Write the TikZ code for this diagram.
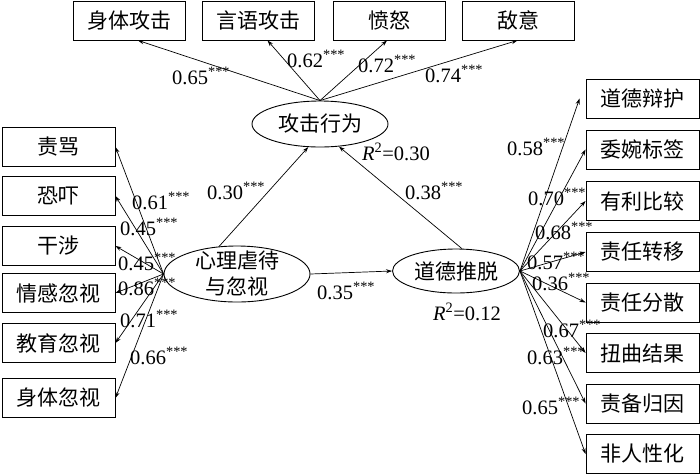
\documentclass[tikz,border=0pt]{standalone}
\usepackage{fontspec}
\setmainfont{Liberation Serif}
\newfontfamily\cjk{Noto Sans CJK SC}
\usetikzlibrary{shapes.geometric,arrows.meta}
\begin{document}
\begin{tikzpicture}[x=1pt,y=-1pt,
  ind/.style={draw, line width=0.9pt, minimum width=112pt, minimum height=39pt, inner sep=0pt, font=\cjk\fontsize{21}{24}\selectfont},
  lat/.style={draw, ellipse, line width=0.9pt, inner sep=0pt, font=\cjk\fontsize{21}{26}\selectfont, align=center},
  arr/.style={-{Stealth[length=6pt,width=4pt]}, line width=0.7pt},
  coef/.style={anchor=base west, inner sep=0pt, font=\fontsize{20.5}{24}\selectfont}
]
\useasboundingbox (0,0) rectangle (700,475);
% top indicators
\node[ind] (t1) at (129,20.5) {身体攻击};
\node[ind] (t2) at (258.5,20.5) {言语攻击};
\node[ind] (t3) at (389,20.5) {愤怒};
\node[ind] (t4) at (518.5,20.5) {敌意};
% left indicators
\node[ind, minimum width=113pt] (l1) at (58.5,147) {责骂};
\node[ind, minimum width=113pt] (l2) at (58.5,196) {恐吓};
\node[ind, minimum width=113pt] (l3) at (58.5,246) {干涉};
\node[ind, minimum width=113pt] (l4) at (58.5,293) {情感忽视};
\node[ind, minimum width=113pt] (l5) at (58.5,343) {教育忽视};
\node[ind, minimum width=113pt] (l6) at (58.5,398) {身体忽视};
% right indicators
\node[ind, minimum width=113pt] (r1) at (642.5,98.5) {道德辩护};
\node[ind, minimum width=113pt] (r2) at (642.5,149.5) {委婉标签};
\node[ind, minimum width=113pt] (r3) at (642.5,201) {有利比较};
\node[ind, minimum width=113pt] (r4) at (642.5,252) {责任转移};
\node[ind, minimum width=113pt] (r5) at (642.5,302.5) {责任分散};
\node[ind, minimum width=113pt] (r6) at (642.5,353) {扭曲结果};
\node[ind, minimum width=113pt] (r7) at (642.5,403.5) {责备归因};
\node[ind, minimum width=113pt] (r8) at (642.5,454) {非人性化};
% latent variables
\node[lat, minimum width=136pt, minimum height=46pt] (agg) at (320,124) {攻击行为};
\node[lat, minimum width=146pt, minimum height=56pt, inner ysep=-6pt, inner xsep=-4pt] (psy) at (237,274) {心理虐待\\与忽视};
\node[lat, minimum width=127pt, minimum height=44pt] (md) at (456,271) {道德推脱};
% measurement arrows
\draw[arr] (agg.north) -- ([xshift=9pt]t1.south);
\draw[arr] (agg.north) -- ([xshift=9pt]t2.south);
\draw[arr] (agg.north) -- ([xshift=-2pt]t3.south);
\draw[arr] (agg.north) -- ([xshift=-1pt]t4.south);
\foreach \n in {l1,l2,l3,l4,l5,l6} \draw[arr] (psy.west) -- (\n.east);
\draw[arr] (md.east) -- ([xshift=-6pt]r1.west);
\foreach \n in {r2,r3,r4,r5,r6,r7,r8} \draw[arr] (md.east) -- (\n.west);
% structural arrows
\draw[arr] (psy.123) -- (agg.243);
\draw[arr] (md.75) -- (agg.310);
\draw[arr] (psy.east) -- (md.west);
% coefficients
\node[coef] (ct1) at (172,84) {0.65\textsuperscript{***}};
\node[coef] (ct2) at (287,67) {0.62\textsuperscript{***}};
\node[coef] (ct3) at (358,72) {0.72\textsuperscript{***}};
\node[coef] (ct4) at (425,82) {0.74\textsuperscript{***}};
\node[coef] (cl1) at (132,209) {0.61\textsuperscript{***}};
\node[coef] (cl2) at (120,235) {0.45\textsuperscript{***}};
\node[coef] (cl3) at (118,270) {0.45\textsuperscript{***}};
\node[coef] (cl4) at (118,295) {0.86\textsuperscript{***}};
\node[coef] (cl5) at (120,327) {0.71\textsuperscript{***}};
\node[coef] (cl6) at (130,364) {0.66\textsuperscript{***}};
\node[coef] (cs1) at (207,199) {0.30\textsuperscript{***}};
\node[coef] (cs2) at (405,199) {0.38\textsuperscript{***}};
\node[coef] (cs3) at (317,299) {0.35\textsuperscript{***}};
\node[coef] (rsq1) at (362,160) {\textit{R}\textsuperscript{2}=0.30};
\node[coef] (rsq2) at (433,320) {\textit{R}\textsuperscript{2}=0.12};
\node[coef] (cr1) at (507,155) {0.58\textsuperscript{***}};
\node[coef] (cr2) at (528,205) {0.70\textsuperscript{***}};
\node[coef] (cr3) at (535,239) {0.68\textsuperscript{***}};
\node[coef] (cr4) at (527,269) {0.57\textsuperscript{***}};
\node[coef] (cr5) at (532,290) {0.36\textsuperscript{***}};
\node[coef] (cr6) at (543,337) {0.67\textsuperscript{***}};
\node[coef] (cr7) at (527,364) {0.63\textsuperscript{***}};
\node[coef] (cr8) at (522,414) {0.65\textsuperscript{***}};
\end{tikzpicture}
\end{document}
